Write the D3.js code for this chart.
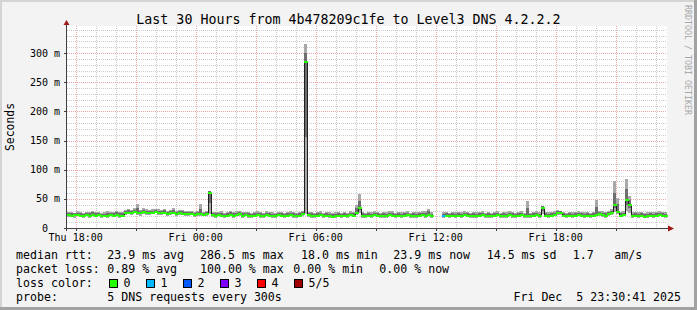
<!DOCTYPE html>
<html>
<head>
<meta charset="utf-8">
<script src="https://cdn.jsdelivr.net/npm/d3@7/dist/d3.min.js"></script>
<style>
  html, body { margin: 0; padding: 0; background: #f3f3f3; }
  svg { display: block; }
  text { font-family: "DejaVu Sans Mono", monospace; fill: #000; white-space: pre; }
</style>
</head>
<body>
<div id="chart"></div>
<script>
// median rtt per 9-minute step (ms), null = no data
var medianRtt = [
  24,23,24,24,23,22,24,23,24,23,
  24,23,22,23,24,23,24,23,23,27,
  28,27,29,28,27,29,28,28,27,29,
  28,27,28,26,27,28,26,27,26,25,
  26,25,24,25,25,24,26,62,24,23,
  24,23,22,23,24,23,24,25,23,24,
  23,22,23,24,23,22,24,23,22,23,
  24,23,22,23,24,23,22,23,25,286.5,
  24,23,22,23,24,22,23,22,21,22,
  23,22,23,22,24,23,28,36,23,22,
  23,22,24,23,22,23,22,24,23,22,
  23,22,23,24,22,23,22,23,24,23,
  24,22,null,null,null,22,23,22,23,22,
  23,22,24,23,22,23,22,23,24,22,
  23,22,23,24,22,23,22,24,23,22,
  23,24,22,23,22,23,24,22,36,23,
  22,23,24,28,27,23,22,23,22,23,
  24,23,22,23,22,23,24,25,24,23,
  26,27,41,30,23,24,50,42,22,23,
  22,23,21,22,23,22,23,24,23,22
];
// smoke: lowest ping per step (ms)
var smokeLo = [
  19,20,18,21,19,18,20,17,21,19,
  20,18,19,17,21,19,20,18,19,22,
  24,22,25,23,21,24,23,22,24,25,
  23,22,24,21,23,24,21,22,22,20,
  21,22,19,21,20,20,21,24,19,18,
  20,19,17,19,20,18,20,21,18,20,
  18,17,19,20,18,17,20,19,18,17,
  20,19,17,19,20,18,17,19,21,24,
  19,18,17,19,20,17,19,18,17,18,
  19,17,19,18,20,19,23,26,18,17,
  19,18,20,19,17,18,18,20,19,17,
  19,18,19,20,17,18,18,19,20,18,
  20,18,null,null,null,18,19,17,19,18,
  19,18,20,19,17,18,18,19,20,17,
  18,17,19,20,17,18,18,20,18,17,
  19,20,17,18,17,19,20,18,24,19,
  18,19,20,23,22,19,17,19,18,19,
  20,19,18,19,17,19,20,20,19,18,
  21,22,28,24,19,20,30,26,18,19,
  18,19,17,18,19,18,19,20,19,18
];
// smoke: highest ping per step (ms)
var smokeHi = [
  27,28,26,29,27,26,28,27,30,27,
  28,26,27,29,28,27,30,27,28,31,
  33,31,34,41,31,34,32,31,33,33,
  32,31,33,30,31,34,30,31,31,29,
  30,29,28,29,41,28,29,64,28,27,
  28,29,26,27,30,27,29,30,27,28,
  27,26,28,29,27,26,29,28,27,26,
  28,27,26,28,29,27,26,28,30,315,
  28,27,26,28,29,26,28,27,26,27,
  28,26,27,26,29,28,40,58,27,26,
  28,27,29,28,26,27,27,29,30,26,
  28,27,28,29,26,28,27,28,29,29,
  33,27,null,null,null,27,28,26,28,27,
  28,27,29,28,26,27,27,28,29,26,
  27,26,28,29,26,27,27,29,28,26,
  28,29,26,46,26,28,29,27,38,28,
  27,28,29,31,30,28,26,28,27,28,
  29,28,27,28,26,28,48,30,29,28,
  30,32,80,52,28,29,84,55,27,28,
  27,28,26,27,28,27,28,29,28,27
];
// lost pings (of 5) per step
var lossCount = [];
var lossSteps = [[122, 5], [123, 5], [124, 5], [125, 1]];
var lossColors = ["#26ff00", "#00b8ff", "#0059ff", "#7e00ff", "#ff0000", "#a10000"];
var lossLabels = ["0", "1", "2", "3", "4", "5/5"];
var yTicksMajor = [0, 50, 100, 150, 200, 250, 300];
var yTickLabels = ["0", "50 m", "100 m", "150 m", "200 m", "250 m", "300 m"];

var medianLegend = ["median rtt:", "23.9 ms avg", "286.5 ms max", "18.0 ms min", "23.9 ms now", "14.5 ms sd", "1.7", "am/s"];
var lossLegend = ["packet loss:", "0.89 % avg", "100.00 % max", "0.00 % min", "0.00 % now"];

(function() {
  var W = 697, H = 310;
  var left = 67, right = 667, top = 28, bottom = 228;
  var stepMin = 9;
  var t0 = new Date(2025, 11, 4, 17, 34);
  var t1 = new Date(t0.getTime() + 30 * 3600 * 1000);
  var stepTime = function(i) { return new Date(t0.getTime() + i * stepMin * 60000); };

  for (var k = 0; k < medianRtt.length; k++) lossCount.push(0);
  lossSteps.forEach(function(d) { lossCount[d[0]] = d[1]; });

  var x = d3.scaleTime().domain([t0, t1]).range([left, right]);
  var y = d3.scaleLinear().domain([0, 343]).range([bottom, top]);

  var svg = d3.select("#chart").append("svg").attr("width", W).attr("height", H);

  // frame
  svg.append("rect").attr("width", W).attr("height", H).attr("fill", "#f3f3f3");
  svg.append("rect").attr("x", 0).attr("y", 0).attr("width", W).attr("height", 2).attr("fill", "#d4d4d4");
  svg.append("rect").attr("x", 0).attr("y", 0).attr("width", 2).attr("height", H).attr("fill", "#d4d4d4");
  svg.append("rect").attr("x", W - 3).attr("y", 0).attr("width", 3).attr("height", H).attr("fill", "#a2a2a2");
  svg.append("rect").attr("x", 0).attr("y", H - 3).attr("width", W).attr("height", 3).attr("fill", "#a2a2a2");

  // canvas
  svg.append("rect").attr("x", left).attr("y", top - 2).attr("width", right - left).attr("height", bottom - top + 2).attr("fill", "#ffffff");

  var grid = svg.append("g").attr("shape-rendering", "crispEdges");
  // horizontal grid
  d3.range(10, 350, 10).forEach(function(v) {
    var major = v % 50 === 0;
    grid.append("line")
      .attr("x1", left).attr("x2", right)
      .attr("y1", Math.round(y(v)) + 0.5).attr("y2", Math.round(y(v)) + 0.5)
      .attr("stroke", major ? "#eeaaaa" : "#cccccc")
      .attr("stroke-dasharray", "1,1");
  });
  // vertical grid
  d3.timeHour.range(t0, t1).forEach(function(t) {
    var major = t.getHours() % 3 === 0;
    var xx = Math.round(x(t)) + 0.5;
    grid.append("line")
      .attr("x1", xx).attr("x2", xx)
      .attr("y1", top - 2).attr("y2", bottom)
      .attr("stroke", major ? "#eeaaaa" : "#cccccc")
      .attr("stroke-dasharray", "1,1");
  });

  // smoke
  var steps = d3.range(medianRtt.length);
  var have = steps.filter(function(i) { return smokeLo[i] != null; });
  var smoke = svg.append("g").attr("shape-rendering", "crispEdges");
  smoke.selectAll("rect.outer").data(have)
    .enter().append("rect")
    .attr("x", function(i) { return x(stepTime(i)); })
    .attr("width", function(i) { return x(stepTime(i + 1)) - x(stepTime(i)); })
    .attr("y", function(i) { return y(smokeHi[i]); })
    .attr("height", function(i) { return y(smokeLo[i]) - y(smokeHi[i]); })
    .attr("fill", "#a8a8a8");
  smoke.selectAll("rect.inner").data(have)
    .enter().append("rect")
    .attr("x", function(i) { return x(stepTime(i)); })
    .attr("width", function(i) { return x(stepTime(i + 1)) - x(stepTime(i)); })
    .attr("y", function(i) { return y((smokeHi[i] + medianRtt[i]) / 2); })
    .attr("height", function(i) { return y((smokeLo[i] + medianRtt[i]) / 2) - y((smokeHi[i] + medianRtt[i]) / 2); })
    .attr("fill", "#6e6e6e");

  // median dark step line
  var pts = [];
  steps.forEach(function(i) {
    pts.push({ t: stepTime(i), v: medianRtt[i] });
    pts.push({ t: stepTime(i + 1), v: medianRtt[i] });
  });
  var line = d3.line()
    .defined(function(d) { return d.v != null; })
    .x(function(d) { return Math.round(x(d.t)) + 0.5; })
    .y(function(d) { return Math.round(y(d.v)) + 0.5; });
  svg.append("path").attr("d", line(pts)).attr("fill", "none")
    .attr("stroke", "#202020").attr("stroke-width", 1).attr("shape-rendering", "crispEdges");

  // median coloured by loss
  svg.append("g").attr("shape-rendering", "crispEdges")
    .selectAll("line").data(steps.filter(function(i) { return medianRtt[i] != null; }))
    .enter().append("line")
    .attr("x1", function(i) { return Math.round(x(stepTime(i))); })
    .attr("x2", function(i) { return Math.round(x(stepTime(i + 1))) + 1; })
    .attr("y1", function(i) { return Math.round(y(medianRtt[i])) + 1; })
    .attr("y2", function(i) { return Math.round(y(medianRtt[i])) + 1; })
    .attr("stroke", function(i) { return lossColors[lossCount[i]]; })
    .attr("stroke-width", 2);

  // axes
  var axis = svg.append("g").attr("shape-rendering", "crispEdges");
  axis.append("line").attr("x1", left - 3).attr("x2", right + 3).attr("y1", bottom + 0.5).attr("y2", bottom + 0.5).attr("stroke", "#404040");
  axis.append("line").attr("x1", left - 0.5).attr("x2", left - 0.5).attr("y1", bottom + 3).attr("y2", top - 4).attr("stroke", "#404040");
  d3.timeHour.every(3).range(t0, t1).forEach(function(t) {
    var xx = Math.round(x(t)) + 0.5;
    axis.append("line").attr("x1", xx).attr("x2", xx).attr("y1", bottom).attr("y2", bottom + 3).attr("stroke", "#404040");
  });
  yTicksMajor.forEach(function(v) {
    var yy = Math.round(y(v)) + 0.5;
    axis.append("line").attr("x1", left - 3).attr("x2", left).attr("y1", yy).attr("y2", yy).attr("stroke", "#404040");
  });
  svg.append("path").attr("d", "M" + (left - 3.5) + "," + (top - 3) + "L" + (left + 2.5) + "," + (top - 3) + "L" + (left - 0.5) + "," + (top - 8) + "Z").attr("fill", "#a01818");
  svg.append("path").attr("d", "M" + (right + 1) + "," + (bottom - 2.5) + "L" + (right + 1) + "," + (bottom + 3.5) + "L" + (right + 7) + "," + (bottom + 0.5) + "Z").attr("fill", "#a01818");

  // y labels
  svg.append("g").selectAll("text").data(yTicksMajor).enter().append("text")
    .attr("x", function(v) { return v === 0 ? 48 : 60; })
    .attr("y", function(v) { return y(v) + 3.5; })
    .attr("text-anchor", "end")
    .style("font-size", "10px")
    .text(function(v, i) { return yTickLabels[i]; });

  // x labels
  var fmt = d3.timeFormat("%a %H:%M");
  svg.append("g").selectAll("text").data(d3.timeHour.every(6).range(t0, t1)).enter().append("text")
    .attr("x", function(t) { return x(t); })
    .attr("y", 241)
    .attr("text-anchor", "middle")
    .style("font-size", "10px")
    .text(function(t) { return fmt(t); });

  // title
  svg.append("text").attr("x", W / 2).attr("y", 23.5).attr("text-anchor", "middle")
    .style("font-size", "13.3px").text("Last 30 Hours from 4b478209c1fe to Level3 DNS 4.2.2.2");
  svg.append("text").attr("transform", "translate(14,127)rotate(-90)").attr("text-anchor", "middle")
    .style("font-size", "11.4px").text("Seconds");
  svg.append("text").attr("transform", "translate(685,5)rotate(90)")
    .style("font-size", "8.3px").style("fill", "#a8a8a8").text("RRDTOOL / TOBI OETIKER");

  // legend
  var fs = "11.6px";
  var medX = [16, 107.3, 200, 301, 393.3, 486.7, 572.7, 614.3];
  medianLegend.forEach(function(s, i) {
    svg.append("text").attr("x", medX[i]).attr("y", 259).style("font-size", fs).text(s);
  });
  var lossX = [16, 107.3, 200, 293.3, 379.3];
  lossLegend.forEach(function(s, i) {
    svg.append("text").attr("x", lossX[i]).attr("y", 273).style("font-size", fs).text(s);
  });
  svg.append("text").attr("x", 16).attr("y", 287).style("font-size", fs).text("loss color:");
  lossColors.forEach(function(c, i) {
    var bx = 109 + i * 37;
    svg.append("rect").attr("x", bx + 0.5).attr("y", 279.5).attr("width", 8).attr("height", 8)
      .attr("fill", c).attr("stroke", "#000").attr("shape-rendering", "crispEdges");
    svg.append("text").attr("x", bx + 14.5).attr("y", 287).style("font-size", fs).text(lossLabels[i]);
  });
  svg.append("text").attr("x", 16).attr("y", 301).style("font-size", fs).text("probe:");
  svg.append("text").attr("x", 107.3).attr("y", 301).style("font-size", fs).text("5 DNS requests every 300s");
  svg.append("text").attr("x", 681).attr("y", 301).attr("text-anchor", "end").style("font-size", fs).text("Fri Dec  5 23:30:41 2025");
})();
</script>
</body>
</html>
